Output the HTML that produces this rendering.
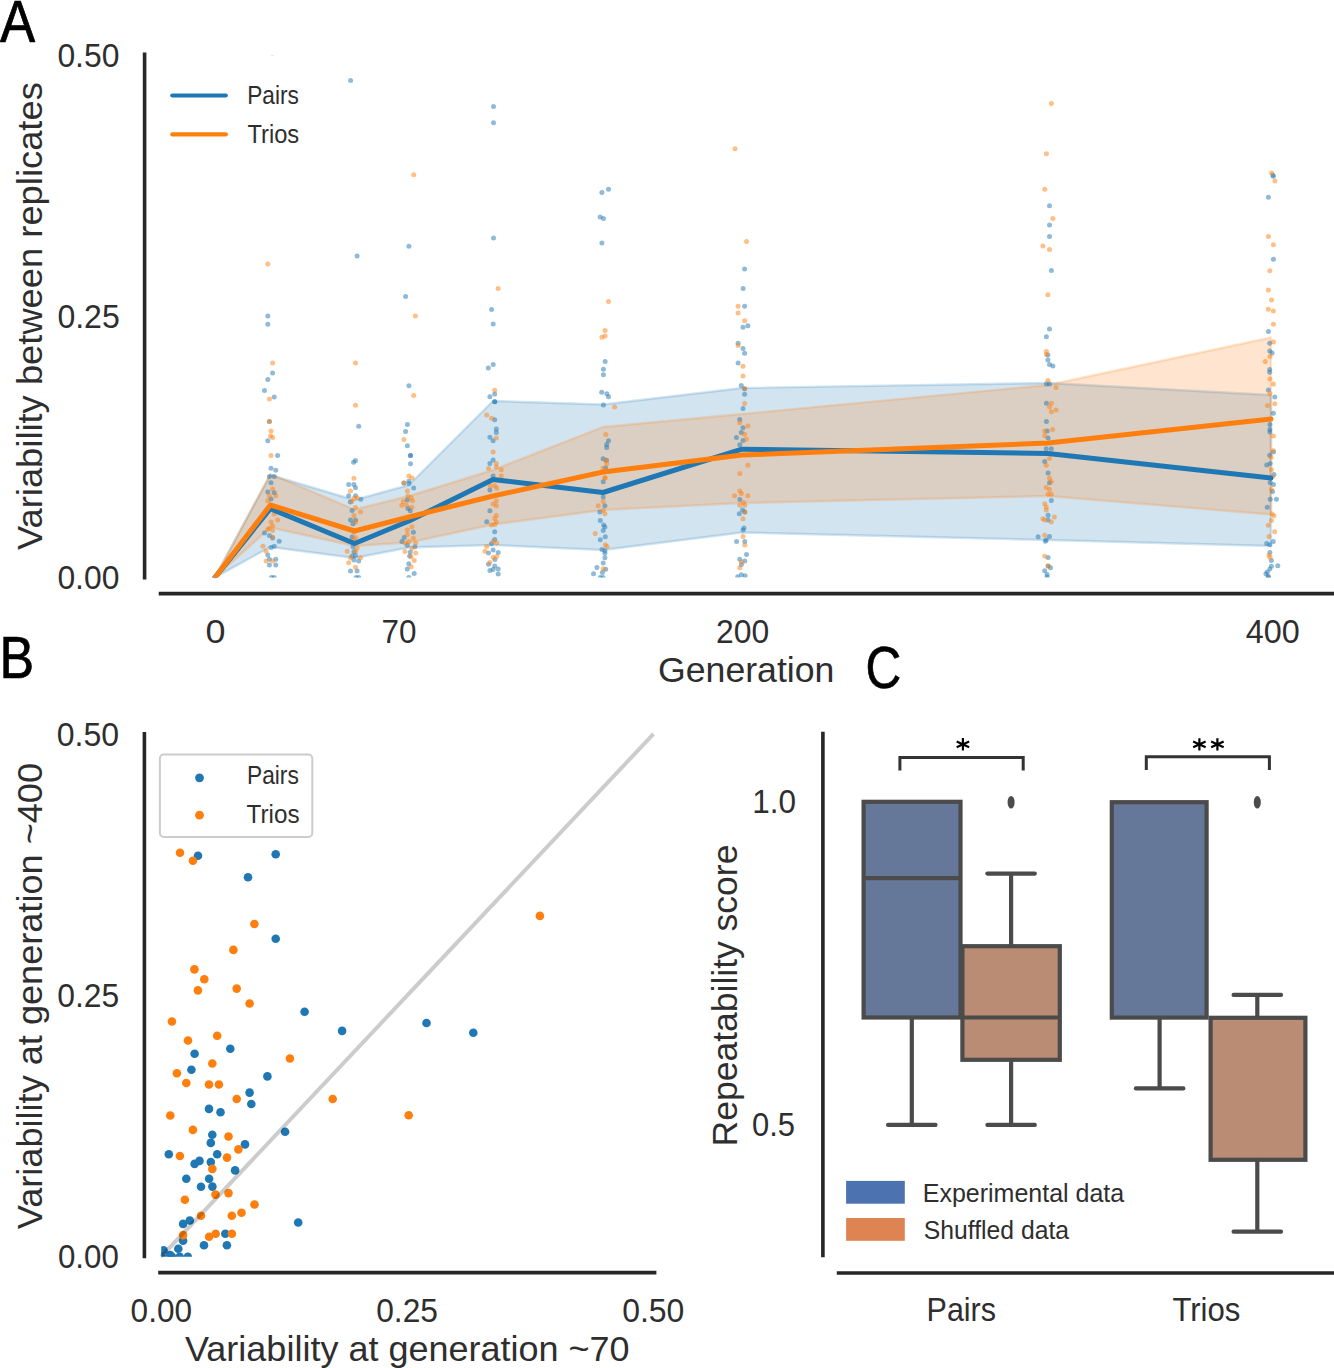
<!DOCTYPE html>
<html><head><meta charset="utf-8"><style>
html,body{margin:0;padding:0;background:#fff;}
svg{display:block;}
text{font-family:"Liberation Sans", sans-serif;}
</style></head><body>
<svg width="1334" height="1368" viewBox="0 0 1334 1368">
<rect width="1334" height="1368" fill="#fff"/>
<polygon points="215.0,577.4 270.3,475.0 354.5,500.0 409.0,485.0 493.0,401.0 603.0,404.5 742.0,388.0 1048.0,383.0 1271.0,395.0 1271.0,546.0 1048.0,540.0 742.0,532.5 603.0,550.0 493.0,545.0 409.0,547.5 354.5,558.0 270.3,547.0 215.0,577.4" fill="#1f77b4" fill-opacity="0.2" stroke="#1f77b4" stroke-opacity="0.2" stroke-width="2.4" stroke-linejoin="round"/>
<polygon points="215.0,577.4 270.3,474.0 354.5,509.5 409.0,496.0 493.0,470.0 603.0,427.0 742.0,414.0 1048.0,385.0 1271.0,337.5 1271.0,514.5 1048.0,496.0 742.0,503.0 603.0,510.0 493.0,524.5 409.0,542.5 354.5,546.0 270.3,527.5 215.0,577.4" fill="#ff7f0e" fill-opacity="0.2" stroke="#ff7f0e" stroke-opacity="0.2" stroke-width="2.4" stroke-linejoin="round"/>
<defs><clipPath id="ca"><rect x="145" y="54.9" width="1189" height="522.5"/></clipPath></defs>
<g clip-path="url(#ca)">
<circle cx="267.8" cy="315.9" r="2.5" fill="#1f77b4" fill-opacity="0.5"/>
<circle cx="267.8" cy="324.3" r="2.5" fill="#1f77b4" fill-opacity="0.5"/>
<circle cx="272.6" cy="372.9" r="2.5" fill="#1f77b4" fill-opacity="0.5"/>
<circle cx="267.8" cy="379.4" r="2.5" fill="#1f77b4" fill-opacity="0.5"/>
<circle cx="264.5" cy="390.5" r="2.5" fill="#1f77b4" fill-opacity="0.5"/>
<circle cx="274.2" cy="397.1" r="2.5" fill="#1f77b4" fill-opacity="0.5"/>
<circle cx="269.4" cy="421.4" r="2.5" fill="#1f77b4" fill-opacity="0.5"/>
<circle cx="267.8" cy="440.8" r="2.5" fill="#1f77b4" fill-opacity="0.5"/>
<circle cx="277.6" cy="455.4" r="2.5" fill="#1f77b4" fill-opacity="0.5"/>
<circle cx="271.0" cy="468.2" r="2.5" fill="#1f77b4" fill-opacity="0.5"/>
<circle cx="275.8" cy="470.3" r="2.5" fill="#1f77b4" fill-opacity="0.5"/>
<circle cx="269.4" cy="476.5" r="2.5" fill="#1f77b4" fill-opacity="0.5"/>
<circle cx="274.2" cy="476.5" r="2.5" fill="#1f77b4" fill-opacity="0.5"/>
<circle cx="271.0" cy="482.8" r="2.5" fill="#1f77b4" fill-opacity="0.5"/>
<circle cx="267.8" cy="492.1" r="2.5" fill="#1f77b4" fill-opacity="0.5"/>
<circle cx="274.2" cy="492.7" r="2.5" fill="#1f77b4" fill-opacity="0.5"/>
<circle cx="271.0" cy="498.9" r="2.5" fill="#1f77b4" fill-opacity="0.5"/>
<circle cx="264.5" cy="533.1" r="2.5" fill="#1f77b4" fill-opacity="0.5"/>
<circle cx="269.4" cy="535.6" r="2.5" fill="#1f77b4" fill-opacity="0.5"/>
<circle cx="272.6" cy="538.1" r="2.5" fill="#1f77b4" fill-opacity="0.5"/>
<circle cx="279.2" cy="541.2" r="2.5" fill="#1f77b4" fill-opacity="0.5"/>
<circle cx="274.2" cy="546.2" r="2.5" fill="#1f77b4" fill-opacity="0.5"/>
<circle cx="271.0" cy="547.4" r="2.5" fill="#1f77b4" fill-opacity="0.5"/>
<circle cx="267.8" cy="554.9" r="2.5" fill="#1f77b4" fill-opacity="0.5"/>
<circle cx="269.4" cy="559.3" r="2.5" fill="#1f77b4" fill-opacity="0.5"/>
<circle cx="275.8" cy="559.3" r="2.5" fill="#1f77b4" fill-opacity="0.5"/>
<circle cx="269.4" cy="564.9" r="2.5" fill="#1f77b4" fill-opacity="0.5"/>
<circle cx="275.8" cy="564.9" r="2.5" fill="#1f77b4" fill-opacity="0.5"/>
<circle cx="274.2" cy="577.4" r="2.5" fill="#1f77b4" fill-opacity="0.5"/>
<circle cx="271.5" cy="577.4" r="2.5" fill="#1f77b4" fill-opacity="0.5"/>
<circle cx="350.6" cy="80.5" r="2.5" fill="#1f77b4" fill-opacity="0.5"/>
<circle cx="357.1" cy="255.9" r="2.5" fill="#1f77b4" fill-opacity="0.5"/>
<circle cx="358.7" cy="426.2" r="2.5" fill="#1f77b4" fill-opacity="0.5"/>
<circle cx="355.5" cy="460.4" r="2.5" fill="#1f77b4" fill-opacity="0.5"/>
<circle cx="353.6" cy="462.2" r="2.5" fill="#1f77b4" fill-opacity="0.5"/>
<circle cx="348.7" cy="484.6" r="2.5" fill="#1f77b4" fill-opacity="0.5"/>
<circle cx="353.9" cy="484.6" r="2.5" fill="#1f77b4" fill-opacity="0.5"/>
<circle cx="355.5" cy="487.7" r="2.5" fill="#1f77b4" fill-opacity="0.5"/>
<circle cx="348.7" cy="495.8" r="2.5" fill="#1f77b4" fill-opacity="0.5"/>
<circle cx="355.5" cy="495.8" r="2.5" fill="#1f77b4" fill-opacity="0.5"/>
<circle cx="360.8" cy="499.3" r="2.5" fill="#1f77b4" fill-opacity="0.5"/>
<circle cx="350.3" cy="502.0" r="2.5" fill="#1f77b4" fill-opacity="0.5"/>
<circle cx="352.1" cy="510.5" r="2.5" fill="#1f77b4" fill-opacity="0.5"/>
<circle cx="350.5" cy="520.1" r="2.5" fill="#1f77b4" fill-opacity="0.5"/>
<circle cx="355.5" cy="520.1" r="2.5" fill="#1f77b4" fill-opacity="0.5"/>
<circle cx="353.0" cy="523.8" r="2.5" fill="#1f77b4" fill-opacity="0.5"/>
<circle cx="352.1" cy="536.9" r="2.5" fill="#1f77b4" fill-opacity="0.5"/>
<circle cx="353.0" cy="546.8" r="2.5" fill="#1f77b4" fill-opacity="0.5"/>
<circle cx="354.0" cy="551.8" r="2.5" fill="#1f77b4" fill-opacity="0.5"/>
<circle cx="355.5" cy="555.5" r="2.5" fill="#1f77b4" fill-opacity="0.5"/>
<circle cx="352.1" cy="556.1" r="2.5" fill="#1f77b4" fill-opacity="0.5"/>
<circle cx="353.9" cy="559.9" r="2.5" fill="#1f77b4" fill-opacity="0.5"/>
<circle cx="358.7" cy="561.1" r="2.5" fill="#1f77b4" fill-opacity="0.5"/>
<circle cx="350.5" cy="571.1" r="2.5" fill="#1f77b4" fill-opacity="0.5"/>
<circle cx="357.1" cy="571.1" r="2.5" fill="#1f77b4" fill-opacity="0.5"/>
<circle cx="358.7" cy="577.4" r="2.5" fill="#1f77b4" fill-opacity="0.5"/>
<circle cx="356.1" cy="577.4" r="2.5" fill="#1f77b4" fill-opacity="0.5"/>
<circle cx="408.9" cy="246.2" r="2.5" fill="#1f77b4" fill-opacity="0.5"/>
<circle cx="405.6" cy="296.6" r="2.5" fill="#1f77b4" fill-opacity="0.5"/>
<circle cx="408.9" cy="385.7" r="2.5" fill="#1f77b4" fill-opacity="0.5"/>
<circle cx="407.4" cy="424.5" r="2.5" fill="#1f77b4" fill-opacity="0.5"/>
<circle cx="405.6" cy="431.4" r="2.5" fill="#1f77b4" fill-opacity="0.5"/>
<circle cx="407.4" cy="445.7" r="2.5" fill="#1f77b4" fill-opacity="0.5"/>
<circle cx="410.5" cy="455.6" r="2.5" fill="#1f77b4" fill-opacity="0.5"/>
<circle cx="410.5" cy="455.6" r="2.5" fill="#1f77b4" fill-opacity="0.5"/>
<circle cx="410.5" cy="463.7" r="2.5" fill="#1f77b4" fill-opacity="0.5"/>
<circle cx="403.9" cy="483.0" r="2.5" fill="#1f77b4" fill-opacity="0.5"/>
<circle cx="408.9" cy="483.6" r="2.5" fill="#1f77b4" fill-opacity="0.5"/>
<circle cx="408.9" cy="481.2" r="2.5" fill="#1f77b4" fill-opacity="0.5"/>
<circle cx="413.7" cy="488.0" r="2.5" fill="#1f77b4" fill-opacity="0.5"/>
<circle cx="407.3" cy="500.0" r="2.5" fill="#1f77b4" fill-opacity="0.5"/>
<circle cx="408.0" cy="508.4" r="2.5" fill="#1f77b4" fill-opacity="0.5"/>
<circle cx="410.3" cy="510.7" r="2.5" fill="#1f77b4" fill-opacity="0.5"/>
<circle cx="413.4" cy="532.2" r="2.5" fill="#1f77b4" fill-opacity="0.5"/>
<circle cx="404.2" cy="537.6" r="2.5" fill="#1f77b4" fill-opacity="0.5"/>
<circle cx="401.9" cy="541.4" r="2.5" fill="#1f77b4" fill-opacity="0.5"/>
<circle cx="407.3" cy="545.2" r="2.5" fill="#1f77b4" fill-opacity="0.5"/>
<circle cx="414.9" cy="546.8" r="2.5" fill="#1f77b4" fill-opacity="0.5"/>
<circle cx="410.3" cy="552.1" r="2.5" fill="#1f77b4" fill-opacity="0.5"/>
<circle cx="409.6" cy="556.0" r="2.5" fill="#1f77b4" fill-opacity="0.5"/>
<circle cx="408.8" cy="563.7" r="2.5" fill="#1f77b4" fill-opacity="0.5"/>
<circle cx="407.3" cy="569.0" r="2.5" fill="#1f77b4" fill-opacity="0.5"/>
<circle cx="414.2" cy="573.6" r="2.5" fill="#1f77b4" fill-opacity="0.5"/>
<circle cx="408.8" cy="577.4" r="2.5" fill="#1f77b4" fill-opacity="0.5"/>
<circle cx="493.5" cy="106.4" r="2.5" fill="#1f77b4" fill-opacity="0.5"/>
<circle cx="493.5" cy="122.7" r="2.5" fill="#1f77b4" fill-opacity="0.5"/>
<circle cx="493.5" cy="238.0" r="2.5" fill="#1f77b4" fill-opacity="0.5"/>
<circle cx="491.6" cy="309.5" r="2.5" fill="#1f77b4" fill-opacity="0.5"/>
<circle cx="493.2" cy="324.1" r="2.5" fill="#1f77b4" fill-opacity="0.5"/>
<circle cx="493.2" cy="364.5" r="2.5" fill="#1f77b4" fill-opacity="0.5"/>
<circle cx="488.3" cy="368.0" r="2.5" fill="#1f77b4" fill-opacity="0.5"/>
<circle cx="494.7" cy="394.1" r="2.5" fill="#1f77b4" fill-opacity="0.5"/>
<circle cx="489.9" cy="396.8" r="2.5" fill="#1f77b4" fill-opacity="0.5"/>
<circle cx="494.7" cy="401.8" r="2.5" fill="#1f77b4" fill-opacity="0.5"/>
<circle cx="494.7" cy="401.8" r="2.5" fill="#1f77b4" fill-opacity="0.5"/>
<circle cx="494.7" cy="419.8" r="2.5" fill="#1f77b4" fill-opacity="0.5"/>
<circle cx="496.3" cy="429.1" r="2.5" fill="#1f77b4" fill-opacity="0.5"/>
<circle cx="496.3" cy="432.6" r="2.5" fill="#1f77b4" fill-opacity="0.5"/>
<circle cx="489.9" cy="437.3" r="2.5" fill="#1f77b4" fill-opacity="0.5"/>
<circle cx="493.1" cy="440.8" r="2.5" fill="#1f77b4" fill-opacity="0.5"/>
<circle cx="493.1" cy="459.9" r="2.5" fill="#1f77b4" fill-opacity="0.5"/>
<circle cx="489.9" cy="463.4" r="2.5" fill="#1f77b4" fill-opacity="0.5"/>
<circle cx="493.1" cy="475.9" r="2.5" fill="#1f77b4" fill-opacity="0.5"/>
<circle cx="489.9" cy="489.9" r="2.5" fill="#1f77b4" fill-opacity="0.5"/>
<circle cx="489.9" cy="510.7" r="2.5" fill="#1f77b4" fill-opacity="0.5"/>
<circle cx="486.7" cy="521.8" r="2.5" fill="#1f77b4" fill-opacity="0.5"/>
<circle cx="494.7" cy="531.8" r="2.5" fill="#1f77b4" fill-opacity="0.5"/>
<circle cx="494.7" cy="539.6" r="2.5" fill="#1f77b4" fill-opacity="0.5"/>
<circle cx="491.4" cy="543.7" r="2.5" fill="#1f77b4" fill-opacity="0.5"/>
<circle cx="493.1" cy="549.9" r="2.5" fill="#1f77b4" fill-opacity="0.5"/>
<circle cx="488.5" cy="553.1" r="2.5" fill="#1f77b4" fill-opacity="0.5"/>
<circle cx="498.2" cy="552.5" r="2.5" fill="#1f77b4" fill-opacity="0.5"/>
<circle cx="494.9" cy="559.5" r="2.5" fill="#1f77b4" fill-opacity="0.5"/>
<circle cx="488.5" cy="564.2" r="2.5" fill="#1f77b4" fill-opacity="0.5"/>
<circle cx="494.7" cy="565.9" r="2.5" fill="#1f77b4" fill-opacity="0.5"/>
<circle cx="498.2" cy="568.9" r="2.5" fill="#1f77b4" fill-opacity="0.5"/>
<circle cx="489.9" cy="570.6" r="2.5" fill="#1f77b4" fill-opacity="0.5"/>
<circle cx="493.1" cy="569.4" r="2.5" fill="#1f77b4" fill-opacity="0.5"/>
<circle cx="498.2" cy="574.1" r="2.5" fill="#1f77b4" fill-opacity="0.5"/>
<circle cx="608.5" cy="189.3" r="2.5" fill="#1f77b4" fill-opacity="0.5"/>
<circle cx="601.9" cy="192.6" r="2.5" fill="#1f77b4" fill-opacity="0.5"/>
<circle cx="600.1" cy="217.0" r="2.5" fill="#1f77b4" fill-opacity="0.5"/>
<circle cx="603.5" cy="218.5" r="2.5" fill="#1f77b4" fill-opacity="0.5"/>
<circle cx="601.9" cy="243.1" r="2.5" fill="#1f77b4" fill-opacity="0.5"/>
<circle cx="605.1" cy="361.5" r="2.5" fill="#1f77b4" fill-opacity="0.5"/>
<circle cx="603.4" cy="369.2" r="2.5" fill="#1f77b4" fill-opacity="0.5"/>
<circle cx="603.4" cy="374.8" r="2.5" fill="#1f77b4" fill-opacity="0.5"/>
<circle cx="601.7" cy="392.2" r="2.5" fill="#1f77b4" fill-opacity="0.5"/>
<circle cx="606.9" cy="393.7" r="2.5" fill="#1f77b4" fill-opacity="0.5"/>
<circle cx="608.5" cy="396.8" r="2.5" fill="#1f77b4" fill-opacity="0.5"/>
<circle cx="603.4" cy="405.0" r="2.5" fill="#1f77b4" fill-opacity="0.5"/>
<circle cx="608.5" cy="440.8" r="2.5" fill="#1f77b4" fill-opacity="0.5"/>
<circle cx="606.7" cy="444.4" r="2.5" fill="#1f77b4" fill-opacity="0.5"/>
<circle cx="606.7" cy="447.5" r="2.5" fill="#1f77b4" fill-opacity="0.5"/>
<circle cx="603.1" cy="458.7" r="2.5" fill="#1f77b4" fill-opacity="0.5"/>
<circle cx="606.5" cy="460.3" r="2.5" fill="#1f77b4" fill-opacity="0.5"/>
<circle cx="605.6" cy="467.9" r="2.5" fill="#1f77b4" fill-opacity="0.5"/>
<circle cx="603.2" cy="481.8" r="2.5" fill="#1f77b4" fill-opacity="0.5"/>
<circle cx="603.2" cy="496.9" r="2.5" fill="#1f77b4" fill-opacity="0.5"/>
<circle cx="604.9" cy="505.7" r="2.5" fill="#1f77b4" fill-opacity="0.5"/>
<circle cx="599.8" cy="512.0" r="2.5" fill="#1f77b4" fill-opacity="0.5"/>
<circle cx="600.3" cy="520.4" r="2.5" fill="#1f77b4" fill-opacity="0.5"/>
<circle cx="603.6" cy="525.0" r="2.5" fill="#1f77b4" fill-opacity="0.5"/>
<circle cx="604.9" cy="527.1" r="2.5" fill="#1f77b4" fill-opacity="0.5"/>
<circle cx="603.2" cy="530.5" r="2.5" fill="#1f77b4" fill-opacity="0.5"/>
<circle cx="605.3" cy="536.8" r="2.5" fill="#1f77b4" fill-opacity="0.5"/>
<circle cx="600.3" cy="539.7" r="2.5" fill="#1f77b4" fill-opacity="0.5"/>
<circle cx="602.0" cy="549.4" r="2.5" fill="#1f77b4" fill-opacity="0.5"/>
<circle cx="604.9" cy="550.7" r="2.5" fill="#1f77b4" fill-opacity="0.5"/>
<circle cx="604.9" cy="553.2" r="2.5" fill="#1f77b4" fill-opacity="0.5"/>
<circle cx="604.9" cy="557.8" r="2.5" fill="#1f77b4" fill-opacity="0.5"/>
<circle cx="603.2" cy="562.9" r="2.5" fill="#1f77b4" fill-opacity="0.5"/>
<circle cx="596.9" cy="567.5" r="2.5" fill="#1f77b4" fill-opacity="0.5"/>
<circle cx="605.7" cy="569.2" r="2.5" fill="#1f77b4" fill-opacity="0.5"/>
<circle cx="602.4" cy="572.5" r="2.5" fill="#1f77b4" fill-opacity="0.5"/>
<circle cx="593.5" cy="573.8" r="2.5" fill="#1f77b4" fill-opacity="0.5"/>
<circle cx="600.3" cy="577.4" r="2.5" fill="#1f77b4" fill-opacity="0.5"/>
<circle cx="603.0" cy="577.4" r="2.5" fill="#1f77b4" fill-opacity="0.5"/>
<circle cx="744.6" cy="269.1" r="2.5" fill="#1f77b4" fill-opacity="0.5"/>
<circle cx="743.1" cy="288.6" r="2.5" fill="#1f77b4" fill-opacity="0.5"/>
<circle cx="744.6" cy="306.3" r="2.5" fill="#1f77b4" fill-opacity="0.5"/>
<circle cx="743.0" cy="327.3" r="2.5" fill="#1f77b4" fill-opacity="0.5"/>
<circle cx="747.9" cy="325.7" r="2.5" fill="#1f77b4" fill-opacity="0.5"/>
<circle cx="738.1" cy="343.2" r="2.5" fill="#1f77b4" fill-opacity="0.5"/>
<circle cx="743.0" cy="348.4" r="2.5" fill="#1f77b4" fill-opacity="0.5"/>
<circle cx="744.6" cy="353.3" r="2.5" fill="#1f77b4" fill-opacity="0.5"/>
<circle cx="738.1" cy="363.0" r="2.5" fill="#1f77b4" fill-opacity="0.5"/>
<circle cx="741.3" cy="385.5" r="2.5" fill="#1f77b4" fill-opacity="0.5"/>
<circle cx="744.6" cy="388.7" r="2.5" fill="#1f77b4" fill-opacity="0.5"/>
<circle cx="744.6" cy="394.2" r="2.5" fill="#1f77b4" fill-opacity="0.5"/>
<circle cx="743.0" cy="408.5" r="2.5" fill="#1f77b4" fill-opacity="0.5"/>
<circle cx="739.7" cy="419.5" r="2.5" fill="#1f77b4" fill-opacity="0.5"/>
<circle cx="743.0" cy="427.7" r="2.5" fill="#1f77b4" fill-opacity="0.5"/>
<circle cx="741.3" cy="432.6" r="2.5" fill="#1f77b4" fill-opacity="0.5"/>
<circle cx="736.4" cy="437.5" r="2.5" fill="#1f77b4" fill-opacity="0.5"/>
<circle cx="743.0" cy="440.5" r="2.5" fill="#1f77b4" fill-opacity="0.5"/>
<circle cx="739.8" cy="444.8" r="2.5" fill="#1f77b4" fill-opacity="0.5"/>
<circle cx="739.8" cy="499.4" r="2.5" fill="#1f77b4" fill-opacity="0.5"/>
<circle cx="742.5" cy="510.0" r="2.5" fill="#1f77b4" fill-opacity="0.5"/>
<circle cx="744.8" cy="512.1" r="2.5" fill="#1f77b4" fill-opacity="0.5"/>
<circle cx="739.3" cy="513.7" r="2.5" fill="#1f77b4" fill-opacity="0.5"/>
<circle cx="744.0" cy="528.0" r="2.5" fill="#1f77b4" fill-opacity="0.5"/>
<circle cx="743.0" cy="530.1" r="2.5" fill="#1f77b4" fill-opacity="0.5"/>
<circle cx="736.6" cy="541.6" r="2.5" fill="#1f77b4" fill-opacity="0.5"/>
<circle cx="744.8" cy="541.6" r="2.5" fill="#1f77b4" fill-opacity="0.5"/>
<circle cx="746.5" cy="554.5" r="2.5" fill="#1f77b4" fill-opacity="0.5"/>
<circle cx="739.8" cy="559.3" r="2.5" fill="#1f77b4" fill-opacity="0.5"/>
<circle cx="744.8" cy="560.9" r="2.5" fill="#1f77b4" fill-opacity="0.5"/>
<circle cx="741.4" cy="564.5" r="2.5" fill="#1f77b4" fill-opacity="0.5"/>
<circle cx="741.4" cy="574.7" r="2.5" fill="#1f77b4" fill-opacity="0.5"/>
<circle cx="737.7" cy="576.8" r="2.5" fill="#1f77b4" fill-opacity="0.5"/>
<circle cx="745.1" cy="575.7" r="2.5" fill="#1f77b4" fill-opacity="0.5"/>
<circle cx="1049.5" cy="205.7" r="2.5" fill="#1f77b4" fill-opacity="0.5"/>
<circle cx="1049.5" cy="225.0" r="2.5" fill="#1f77b4" fill-opacity="0.5"/>
<circle cx="1049.5" cy="236.5" r="2.5" fill="#1f77b4" fill-opacity="0.5"/>
<circle cx="1051.4" cy="270.5" r="2.5" fill="#1f77b4" fill-opacity="0.5"/>
<circle cx="1049.5" cy="329.0" r="2.5" fill="#1f77b4" fill-opacity="0.5"/>
<circle cx="1046.4" cy="336.8" r="2.5" fill="#1f77b4" fill-opacity="0.5"/>
<circle cx="1047.9" cy="354.9" r="2.5" fill="#1f77b4" fill-opacity="0.5"/>
<circle cx="1047.9" cy="360.1" r="2.5" fill="#1f77b4" fill-opacity="0.5"/>
<circle cx="1049.5" cy="364.5" r="2.5" fill="#1f77b4" fill-opacity="0.5"/>
<circle cx="1052.9" cy="366.1" r="2.5" fill="#1f77b4" fill-opacity="0.5"/>
<circle cx="1046.4" cy="384.1" r="2.5" fill="#1f77b4" fill-opacity="0.5"/>
<circle cx="1049.5" cy="384.1" r="2.5" fill="#1f77b4" fill-opacity="0.5"/>
<circle cx="1046.4" cy="403.3" r="2.5" fill="#1f77b4" fill-opacity="0.5"/>
<circle cx="1046.4" cy="421.4" r="2.5" fill="#1f77b4" fill-opacity="0.5"/>
<circle cx="1047.2" cy="430.9" r="2.5" fill="#1f77b4" fill-opacity="0.5"/>
<circle cx="1048.1" cy="438.1" r="2.5" fill="#1f77b4" fill-opacity="0.5"/>
<circle cx="1046.2" cy="448.7" r="2.5" fill="#1f77b4" fill-opacity="0.5"/>
<circle cx="1051.3" cy="448.7" r="2.5" fill="#1f77b4" fill-opacity="0.5"/>
<circle cx="1044.7" cy="461.6" r="2.5" fill="#1f77b4" fill-opacity="0.5"/>
<circle cx="1048.1" cy="473.1" r="2.5" fill="#1f77b4" fill-opacity="0.5"/>
<circle cx="1049.5" cy="482.7" r="2.5" fill="#1f77b4" fill-opacity="0.5"/>
<circle cx="1051.3" cy="500.6" r="2.5" fill="#1f77b4" fill-opacity="0.5"/>
<circle cx="1048.1" cy="515.3" r="2.5" fill="#1f77b4" fill-opacity="0.5"/>
<circle cx="1048.1" cy="520.1" r="2.5" fill="#1f77b4" fill-opacity="0.5"/>
<circle cx="1038.1" cy="536.8" r="2.5" fill="#1f77b4" fill-opacity="0.5"/>
<circle cx="1049.5" cy="536.4" r="2.5" fill="#1f77b4" fill-opacity="0.5"/>
<circle cx="1045.3" cy="541.2" r="2.5" fill="#1f77b4" fill-opacity="0.5"/>
<circle cx="1046.2" cy="540.0" r="2.5" fill="#1f77b4" fill-opacity="0.5"/>
<circle cx="1048.1" cy="557.5" r="2.5" fill="#1f77b4" fill-opacity="0.5"/>
<circle cx="1048.1" cy="566.0" r="2.5" fill="#1f77b4" fill-opacity="0.5"/>
<circle cx="1050.5" cy="567.8" r="2.5" fill="#1f77b4" fill-opacity="0.5"/>
<circle cx="1044.7" cy="570.8" r="2.5" fill="#1f77b4" fill-opacity="0.5"/>
<circle cx="1047.1" cy="574.4" r="2.5" fill="#1f77b4" fill-opacity="0.5"/>
<circle cx="1047.1" cy="577.0" r="2.5" fill="#1f77b4" fill-opacity="0.5"/>
<circle cx="1272.8" cy="175.0" r="2.5" fill="#1f77b4" fill-opacity="0.5"/>
<circle cx="1273.4" cy="176.2" r="2.5" fill="#1f77b4" fill-opacity="0.5"/>
<circle cx="1268.4" cy="197.3" r="2.5" fill="#1f77b4" fill-opacity="0.5"/>
<circle cx="1273.4" cy="259.3" r="2.5" fill="#1f77b4" fill-opacity="0.5"/>
<circle cx="1268.4" cy="331.5" r="2.5" fill="#1f77b4" fill-opacity="0.5"/>
<circle cx="1269.7" cy="343.2" r="2.5" fill="#1f77b4" fill-opacity="0.5"/>
<circle cx="1269.7" cy="351.1" r="2.5" fill="#1f77b4" fill-opacity="0.5"/>
<circle cx="1272.1" cy="353.1" r="2.5" fill="#1f77b4" fill-opacity="0.5"/>
<circle cx="1269.7" cy="369.4" r="2.5" fill="#1f77b4" fill-opacity="0.5"/>
<circle cx="1269.7" cy="372.3" r="2.5" fill="#1f77b4" fill-opacity="0.5"/>
<circle cx="1268.4" cy="390.1" r="2.5" fill="#1f77b4" fill-opacity="0.5"/>
<circle cx="1274.8" cy="397.0" r="2.5" fill="#1f77b4" fill-opacity="0.5"/>
<circle cx="1273.4" cy="413.3" r="2.5" fill="#1f77b4" fill-opacity="0.5"/>
<circle cx="1269.9" cy="424.6" r="2.5" fill="#1f77b4" fill-opacity="0.5"/>
<circle cx="1269.9" cy="429.5" r="2.5" fill="#1f77b4" fill-opacity="0.5"/>
<circle cx="1269.9" cy="432.0" r="2.5" fill="#1f77b4" fill-opacity="0.5"/>
<circle cx="1273.4" cy="452.0" r="2.5" fill="#1f77b4" fill-opacity="0.5"/>
<circle cx="1269.7" cy="455.2" r="2.5" fill="#1f77b4" fill-opacity="0.5"/>
<circle cx="1270.2" cy="463.6" r="2.5" fill="#1f77b4" fill-opacity="0.5"/>
<circle cx="1266.7" cy="465.0" r="2.5" fill="#1f77b4" fill-opacity="0.5"/>
<circle cx="1274.0" cy="474.5" r="2.5" fill="#1f77b4" fill-opacity="0.5"/>
<circle cx="1270.2" cy="482.6" r="2.5" fill="#1f77b4" fill-opacity="0.5"/>
<circle cx="1273.5" cy="484.5" r="2.5" fill="#1f77b4" fill-opacity="0.5"/>
<circle cx="1272.5" cy="491.5" r="2.5" fill="#1f77b4" fill-opacity="0.5"/>
<circle cx="1270.2" cy="499.2" r="2.5" fill="#1f77b4" fill-opacity="0.5"/>
<circle cx="1276.4" cy="499.2" r="2.5" fill="#1f77b4" fill-opacity="0.5"/>
<circle cx="1267.3" cy="507.3" r="2.5" fill="#1f77b4" fill-opacity="0.5"/>
<circle cx="1266.7" cy="543.4" r="2.5" fill="#1f77b4" fill-opacity="0.5"/>
<circle cx="1269.9" cy="544.8" r="2.5" fill="#1f77b4" fill-opacity="0.5"/>
<circle cx="1273.3" cy="541.5" r="2.5" fill="#1f77b4" fill-opacity="0.5"/>
<circle cx="1269.9" cy="552.4" r="2.5" fill="#1f77b4" fill-opacity="0.5"/>
<circle cx="1271.4" cy="560.5" r="2.5" fill="#1f77b4" fill-opacity="0.5"/>
<circle cx="1277.8" cy="565.7" r="2.5" fill="#1f77b4" fill-opacity="0.5"/>
<circle cx="1271.4" cy="566.2" r="2.5" fill="#1f77b4" fill-opacity="0.5"/>
<circle cx="1269.9" cy="569.1" r="2.5" fill="#1f77b4" fill-opacity="0.5"/>
<circle cx="1267.3" cy="571.9" r="2.5" fill="#1f77b4" fill-opacity="0.5"/>
<circle cx="1265.9" cy="573.8" r="2.5" fill="#1f77b4" fill-opacity="0.5"/>
<circle cx="1268.3" cy="576.2" r="2.5" fill="#1f77b4" fill-opacity="0.5"/>
<circle cx="1268.3" cy="577.4" r="2.5" fill="#1f77b4" fill-opacity="0.5"/>
<circle cx="272.5" cy="53.0" r="2.5" fill="#ff7f0e" fill-opacity="0.5"/>
<circle cx="267.8" cy="264.1" r="2.5" fill="#ff7f0e" fill-opacity="0.5"/>
<circle cx="272.6" cy="362.9" r="2.5" fill="#ff7f0e" fill-opacity="0.5"/>
<circle cx="269.4" cy="398.9" r="2.5" fill="#ff7f0e" fill-opacity="0.5"/>
<circle cx="269.4" cy="421.4" r="2.5" fill="#ff7f0e" fill-opacity="0.5"/>
<circle cx="271.0" cy="431.1" r="2.5" fill="#ff7f0e" fill-opacity="0.5"/>
<circle cx="272.6" cy="437.4" r="2.5" fill="#ff7f0e" fill-opacity="0.5"/>
<circle cx="270.5" cy="436.0" r="2.5" fill="#ff7f0e" fill-opacity="0.5"/>
<circle cx="271.0" cy="455.4" r="2.5" fill="#ff7f0e" fill-opacity="0.5"/>
<circle cx="272.6" cy="489.0" r="2.5" fill="#ff7f0e" fill-opacity="0.5"/>
<circle cx="275.8" cy="495.8" r="2.5" fill="#ff7f0e" fill-opacity="0.5"/>
<circle cx="269.4" cy="495.8" r="2.5" fill="#ff7f0e" fill-opacity="0.5"/>
<circle cx="267.8" cy="500.8" r="2.5" fill="#ff7f0e" fill-opacity="0.5"/>
<circle cx="274.2" cy="513.9" r="2.5" fill="#ff7f0e" fill-opacity="0.5"/>
<circle cx="277.6" cy="520.1" r="2.5" fill="#ff7f0e" fill-opacity="0.5"/>
<circle cx="271.0" cy="521.9" r="2.5" fill="#ff7f0e" fill-opacity="0.5"/>
<circle cx="272.6" cy="525.7" r="2.5" fill="#ff7f0e" fill-opacity="0.5"/>
<circle cx="269.4" cy="528.2" r="2.5" fill="#ff7f0e" fill-opacity="0.5"/>
<circle cx="267.8" cy="529.4" r="2.5" fill="#ff7f0e" fill-opacity="0.5"/>
<circle cx="272.6" cy="530.6" r="2.5" fill="#ff7f0e" fill-opacity="0.5"/>
<circle cx="272.6" cy="536.9" r="2.5" fill="#ff7f0e" fill-opacity="0.5"/>
<circle cx="262.9" cy="546.2" r="2.5" fill="#ff7f0e" fill-opacity="0.5"/>
<circle cx="266.1" cy="551.2" r="2.5" fill="#ff7f0e" fill-opacity="0.5"/>
<circle cx="266.1" cy="561.1" r="2.5" fill="#ff7f0e" fill-opacity="0.5"/>
<circle cx="272.6" cy="561.1" r="2.5" fill="#ff7f0e" fill-opacity="0.5"/>
<circle cx="355.5" cy="363.1" r="2.5" fill="#ff7f0e" fill-opacity="0.5"/>
<circle cx="355.5" cy="405.2" r="2.5" fill="#ff7f0e" fill-opacity="0.5"/>
<circle cx="353.9" cy="478.2" r="2.5" fill="#ff7f0e" fill-opacity="0.5"/>
<circle cx="350.5" cy="491.1" r="2.5" fill="#ff7f0e" fill-opacity="0.5"/>
<circle cx="353.9" cy="498.3" r="2.5" fill="#ff7f0e" fill-opacity="0.5"/>
<circle cx="357.1" cy="497.7" r="2.5" fill="#ff7f0e" fill-opacity="0.5"/>
<circle cx="351.8" cy="501.4" r="2.5" fill="#ff7f0e" fill-opacity="0.5"/>
<circle cx="355.5" cy="507.6" r="2.5" fill="#ff7f0e" fill-opacity="0.5"/>
<circle cx="360.5" cy="512.0" r="2.5" fill="#ff7f0e" fill-opacity="0.5"/>
<circle cx="353.9" cy="515.5" r="2.5" fill="#ff7f0e" fill-opacity="0.5"/>
<circle cx="355.5" cy="522.0" r="2.5" fill="#ff7f0e" fill-opacity="0.5"/>
<circle cx="353.9" cy="531.9" r="2.5" fill="#ff7f0e" fill-opacity="0.5"/>
<circle cx="355.5" cy="537.5" r="2.5" fill="#ff7f0e" fill-opacity="0.5"/>
<circle cx="353.9" cy="540.0" r="2.5" fill="#ff7f0e" fill-opacity="0.5"/>
<circle cx="357.1" cy="548.0" r="2.5" fill="#ff7f0e" fill-opacity="0.5"/>
<circle cx="347.2" cy="551.2" r="2.5" fill="#ff7f0e" fill-opacity="0.5"/>
<circle cx="355.5" cy="551.2" r="2.5" fill="#ff7f0e" fill-opacity="0.5"/>
<circle cx="350.5" cy="557.8" r="2.5" fill="#ff7f0e" fill-opacity="0.5"/>
<circle cx="360.5" cy="557.8" r="2.5" fill="#ff7f0e" fill-opacity="0.5"/>
<circle cx="348.7" cy="562.7" r="2.5" fill="#ff7f0e" fill-opacity="0.5"/>
<circle cx="355.5" cy="567.3" r="2.5" fill="#ff7f0e" fill-opacity="0.5"/>
<circle cx="413.7" cy="174.7" r="2.5" fill="#ff7f0e" fill-opacity="0.5"/>
<circle cx="415.3" cy="316.1" r="2.5" fill="#ff7f0e" fill-opacity="0.5"/>
<circle cx="413.7" cy="395.5" r="2.5" fill="#ff7f0e" fill-opacity="0.5"/>
<circle cx="403.9" cy="439.5" r="2.5" fill="#ff7f0e" fill-opacity="0.5"/>
<circle cx="408.9" cy="476.1" r="2.5" fill="#ff7f0e" fill-opacity="0.5"/>
<circle cx="412.1" cy="478.0" r="2.5" fill="#ff7f0e" fill-opacity="0.5"/>
<circle cx="403.9" cy="483.0" r="2.5" fill="#ff7f0e" fill-opacity="0.5"/>
<circle cx="407.4" cy="491.1" r="2.5" fill="#ff7f0e" fill-opacity="0.5"/>
<circle cx="408.0" cy="496.1" r="2.5" fill="#ff7f0e" fill-opacity="0.5"/>
<circle cx="411.1" cy="497.7" r="2.5" fill="#ff7f0e" fill-opacity="0.5"/>
<circle cx="412.6" cy="500.7" r="2.5" fill="#ff7f0e" fill-opacity="0.5"/>
<circle cx="403.4" cy="501.5" r="2.5" fill="#ff7f0e" fill-opacity="0.5"/>
<circle cx="401.9" cy="505.3" r="2.5" fill="#ff7f0e" fill-opacity="0.5"/>
<circle cx="406.5" cy="505.3" r="2.5" fill="#ff7f0e" fill-opacity="0.5"/>
<circle cx="411.9" cy="507.2" r="2.5" fill="#ff7f0e" fill-opacity="0.5"/>
<circle cx="411.9" cy="526.8" r="2.5" fill="#ff7f0e" fill-opacity="0.5"/>
<circle cx="407.3" cy="529.9" r="2.5" fill="#ff7f0e" fill-opacity="0.5"/>
<circle cx="407.3" cy="534.5" r="2.5" fill="#ff7f0e" fill-opacity="0.5"/>
<circle cx="413.4" cy="538.3" r="2.5" fill="#ff7f0e" fill-opacity="0.5"/>
<circle cx="405.0" cy="542.9" r="2.5" fill="#ff7f0e" fill-opacity="0.5"/>
<circle cx="408.8" cy="541.4" r="2.5" fill="#ff7f0e" fill-opacity="0.5"/>
<circle cx="415.7" cy="542.9" r="2.5" fill="#ff7f0e" fill-opacity="0.5"/>
<circle cx="411.9" cy="548.3" r="2.5" fill="#ff7f0e" fill-opacity="0.5"/>
<circle cx="405.0" cy="551.4" r="2.5" fill="#ff7f0e" fill-opacity="0.5"/>
<circle cx="415.7" cy="552.9" r="2.5" fill="#ff7f0e" fill-opacity="0.5"/>
<circle cx="411.1" cy="556.7" r="2.5" fill="#ff7f0e" fill-opacity="0.5"/>
<circle cx="414.2" cy="560.6" r="2.5" fill="#ff7f0e" fill-opacity="0.5"/>
<circle cx="411.1" cy="566.7" r="2.5" fill="#ff7f0e" fill-opacity="0.5"/>
<circle cx="498.1" cy="288.4" r="2.5" fill="#ff7f0e" fill-opacity="0.5"/>
<circle cx="494.7" cy="390.3" r="2.5" fill="#ff7f0e" fill-opacity="0.5"/>
<circle cx="486.7" cy="414.9" r="2.5" fill="#ff7f0e" fill-opacity="0.5"/>
<circle cx="491.6" cy="418.2" r="2.5" fill="#ff7f0e" fill-opacity="0.5"/>
<circle cx="496.3" cy="437.9" r="2.5" fill="#ff7f0e" fill-opacity="0.5"/>
<circle cx="493.1" cy="452.1" r="2.5" fill="#ff7f0e" fill-opacity="0.5"/>
<circle cx="496.3" cy="463.6" r="2.5" fill="#ff7f0e" fill-opacity="0.5"/>
<circle cx="496.3" cy="467.1" r="2.5" fill="#ff7f0e" fill-opacity="0.5"/>
<circle cx="488.5" cy="468.5" r="2.5" fill="#ff7f0e" fill-opacity="0.5"/>
<circle cx="501.3" cy="469.7" r="2.5" fill="#ff7f0e" fill-opacity="0.5"/>
<circle cx="501.3" cy="475.9" r="2.5" fill="#ff7f0e" fill-opacity="0.5"/>
<circle cx="490.2" cy="485.8" r="2.5" fill="#ff7f0e" fill-opacity="0.5"/>
<circle cx="494.7" cy="485.8" r="2.5" fill="#ff7f0e" fill-opacity="0.5"/>
<circle cx="496.7" cy="488.2" r="2.5" fill="#ff7f0e" fill-opacity="0.5"/>
<circle cx="496.3" cy="501.0" r="2.5" fill="#ff7f0e" fill-opacity="0.5"/>
<circle cx="493.1" cy="504.0" r="2.5" fill="#ff7f0e" fill-opacity="0.5"/>
<circle cx="496.3" cy="505.7" r="2.5" fill="#ff7f0e" fill-opacity="0.5"/>
<circle cx="496.3" cy="515.6" r="2.5" fill="#ff7f0e" fill-opacity="0.5"/>
<circle cx="494.7" cy="518.6" r="2.5" fill="#ff7f0e" fill-opacity="0.5"/>
<circle cx="496.3" cy="522.1" r="2.5" fill="#ff7f0e" fill-opacity="0.5"/>
<circle cx="491.4" cy="525.0" r="2.5" fill="#ff7f0e" fill-opacity="0.5"/>
<circle cx="494.7" cy="524.4" r="2.5" fill="#ff7f0e" fill-opacity="0.5"/>
<circle cx="493.1" cy="541.4" r="2.5" fill="#ff7f0e" fill-opacity="0.5"/>
<circle cx="496.7" cy="543.1" r="2.5" fill="#ff7f0e" fill-opacity="0.5"/>
<circle cx="486.7" cy="546.6" r="2.5" fill="#ff7f0e" fill-opacity="0.5"/>
<circle cx="485.0" cy="551.3" r="2.5" fill="#ff7f0e" fill-opacity="0.5"/>
<circle cx="493.1" cy="557.2" r="2.5" fill="#ff7f0e" fill-opacity="0.5"/>
<circle cx="496.7" cy="556.6" r="2.5" fill="#ff7f0e" fill-opacity="0.5"/>
<circle cx="489.9" cy="562.4" r="2.5" fill="#ff7f0e" fill-opacity="0.5"/>
<circle cx="608.5" cy="301.5" r="2.5" fill="#ff7f0e" fill-opacity="0.5"/>
<circle cx="605.1" cy="330.4" r="2.5" fill="#ff7f0e" fill-opacity="0.5"/>
<circle cx="605.1" cy="336.0" r="2.5" fill="#ff7f0e" fill-opacity="0.5"/>
<circle cx="601.9" cy="337.3" r="2.5" fill="#ff7f0e" fill-opacity="0.5"/>
<circle cx="614.6" cy="407.0" r="2.5" fill="#ff7f0e" fill-opacity="0.5"/>
<circle cx="605.8" cy="434.4" r="2.5" fill="#ff7f0e" fill-opacity="0.5"/>
<circle cx="605.6" cy="460.3" r="2.5" fill="#ff7f0e" fill-opacity="0.5"/>
<circle cx="606.7" cy="463.8" r="2.5" fill="#ff7f0e" fill-opacity="0.5"/>
<circle cx="603.1" cy="467.9" r="2.5" fill="#ff7f0e" fill-opacity="0.5"/>
<circle cx="605.1" cy="477.7" r="2.5" fill="#ff7f0e" fill-opacity="0.5"/>
<circle cx="604.9" cy="478.0" r="2.5" fill="#ff7f0e" fill-opacity="0.5"/>
<circle cx="603.2" cy="501.5" r="2.5" fill="#ff7f0e" fill-opacity="0.5"/>
<circle cx="598.2" cy="505.7" r="2.5" fill="#ff7f0e" fill-opacity="0.5"/>
<circle cx="603.2" cy="510.3" r="2.5" fill="#ff7f0e" fill-opacity="0.5"/>
<circle cx="604.9" cy="513.7" r="2.5" fill="#ff7f0e" fill-opacity="0.5"/>
<circle cx="595.2" cy="533.4" r="2.5" fill="#ff7f0e" fill-opacity="0.5"/>
<circle cx="605.3" cy="544.8" r="2.5" fill="#ff7f0e" fill-opacity="0.5"/>
<circle cx="607.0" cy="546.5" r="2.5" fill="#ff7f0e" fill-opacity="0.5"/>
<circle cx="603.2" cy="568.7" r="2.5" fill="#ff7f0e" fill-opacity="0.5"/>
<circle cx="735.0" cy="148.7" r="2.5" fill="#ff7f0e" fill-opacity="0.5"/>
<circle cx="746.5" cy="241.6" r="2.5" fill="#ff7f0e" fill-opacity="0.5"/>
<circle cx="738.1" cy="306.3" r="2.5" fill="#ff7f0e" fill-opacity="0.5"/>
<circle cx="738.1" cy="312.9" r="2.5" fill="#ff7f0e" fill-opacity="0.5"/>
<circle cx="744.6" cy="320.8" r="2.5" fill="#ff7f0e" fill-opacity="0.5"/>
<circle cx="738.1" cy="345.4" r="2.5" fill="#ff7f0e" fill-opacity="0.5"/>
<circle cx="743.0" cy="366.3" r="2.5" fill="#ff7f0e" fill-opacity="0.5"/>
<circle cx="743.0" cy="376.1" r="2.5" fill="#ff7f0e" fill-opacity="0.5"/>
<circle cx="744.6" cy="388.7" r="2.5" fill="#ff7f0e" fill-opacity="0.5"/>
<circle cx="744.6" cy="403.6" r="2.5" fill="#ff7f0e" fill-opacity="0.5"/>
<circle cx="739.7" cy="422.7" r="2.5" fill="#ff7f0e" fill-opacity="0.5"/>
<circle cx="747.9" cy="426.0" r="2.5" fill="#ff7f0e" fill-opacity="0.5"/>
<circle cx="744.6" cy="434.3" r="2.5" fill="#ff7f0e" fill-opacity="0.5"/>
<circle cx="746.3" cy="439.2" r="2.5" fill="#ff7f0e" fill-opacity="0.5"/>
<circle cx="747.8" cy="465.2" r="2.5" fill="#ff7f0e" fill-opacity="0.5"/>
<circle cx="739.8" cy="473.4" r="2.5" fill="#ff7f0e" fill-opacity="0.5"/>
<circle cx="739.8" cy="490.9" r="2.5" fill="#ff7f0e" fill-opacity="0.5"/>
<circle cx="741.4" cy="493.6" r="2.5" fill="#ff7f0e" fill-opacity="0.5"/>
<circle cx="734.5" cy="495.7" r="2.5" fill="#ff7f0e" fill-opacity="0.5"/>
<circle cx="747.8" cy="495.7" r="2.5" fill="#ff7f0e" fill-opacity="0.5"/>
<circle cx="743.5" cy="502.6" r="2.5" fill="#ff7f0e" fill-opacity="0.5"/>
<circle cx="739.8" cy="505.2" r="2.5" fill="#ff7f0e" fill-opacity="0.5"/>
<circle cx="744.8" cy="505.2" r="2.5" fill="#ff7f0e" fill-opacity="0.5"/>
<circle cx="744.8" cy="512.1" r="2.5" fill="#ff7f0e" fill-opacity="0.5"/>
<circle cx="743.0" cy="518.7" r="2.5" fill="#ff7f0e" fill-opacity="0.5"/>
<circle cx="743.0" cy="536.5" r="2.5" fill="#ff7f0e" fill-opacity="0.5"/>
<circle cx="744.8" cy="545.0" r="2.5" fill="#ff7f0e" fill-opacity="0.5"/>
<circle cx="741.4" cy="562.0" r="2.5" fill="#ff7f0e" fill-opacity="0.5"/>
<circle cx="739.8" cy="567.8" r="2.5" fill="#ff7f0e" fill-opacity="0.5"/>
<circle cx="1051.4" cy="103.4" r="2.5" fill="#ff7f0e" fill-opacity="0.5"/>
<circle cx="1046.4" cy="153.7" r="2.5" fill="#ff7f0e" fill-opacity="0.5"/>
<circle cx="1044.8" cy="189.3" r="2.5" fill="#ff7f0e" fill-opacity="0.5"/>
<circle cx="1052.9" cy="218.5" r="2.5" fill="#ff7f0e" fill-opacity="0.5"/>
<circle cx="1042.9" cy="246.1" r="2.5" fill="#ff7f0e" fill-opacity="0.5"/>
<circle cx="1049.5" cy="249.5" r="2.5" fill="#ff7f0e" fill-opacity="0.5"/>
<circle cx="1047.9" cy="294.8" r="2.5" fill="#ff7f0e" fill-opacity="0.5"/>
<circle cx="1046.4" cy="351.4" r="2.5" fill="#ff7f0e" fill-opacity="0.5"/>
<circle cx="1046.4" cy="354.5" r="2.5" fill="#ff7f0e" fill-opacity="0.5"/>
<circle cx="1047.9" cy="380.6" r="2.5" fill="#ff7f0e" fill-opacity="0.5"/>
<circle cx="1056.0" cy="387.5" r="2.5" fill="#ff7f0e" fill-opacity="0.5"/>
<circle cx="1051.4" cy="403.3" r="2.5" fill="#ff7f0e" fill-opacity="0.5"/>
<circle cx="1049.5" cy="407.0" r="2.5" fill="#ff7f0e" fill-opacity="0.5"/>
<circle cx="1056.0" cy="409.9" r="2.5" fill="#ff7f0e" fill-opacity="0.5"/>
<circle cx="1051.4" cy="411.7" r="2.5" fill="#ff7f0e" fill-opacity="0.5"/>
<circle cx="1044.7" cy="430.9" r="2.5" fill="#ff7f0e" fill-opacity="0.5"/>
<circle cx="1052.6" cy="429.4" r="2.5" fill="#ff7f0e" fill-opacity="0.5"/>
<circle cx="1044.7" cy="435.7" r="2.5" fill="#ff7f0e" fill-opacity="0.5"/>
<circle cx="1049.5" cy="458.6" r="2.5" fill="#ff7f0e" fill-opacity="0.5"/>
<circle cx="1046.2" cy="465.2" r="2.5" fill="#ff7f0e" fill-opacity="0.5"/>
<circle cx="1049.5" cy="477.9" r="2.5" fill="#ff7f0e" fill-opacity="0.5"/>
<circle cx="1051.3" cy="481.5" r="2.5" fill="#ff7f0e" fill-opacity="0.5"/>
<circle cx="1046.2" cy="487.6" r="2.5" fill="#ff7f0e" fill-opacity="0.5"/>
<circle cx="1049.5" cy="489.4" r="2.5" fill="#ff7f0e" fill-opacity="0.5"/>
<circle cx="1048.1" cy="494.2" r="2.5" fill="#ff7f0e" fill-opacity="0.5"/>
<circle cx="1051.3" cy="494.2" r="2.5" fill="#ff7f0e" fill-opacity="0.5"/>
<circle cx="1044.7" cy="503.8" r="2.5" fill="#ff7f0e" fill-opacity="0.5"/>
<circle cx="1046.2" cy="506.9" r="2.5" fill="#ff7f0e" fill-opacity="0.5"/>
<circle cx="1046.2" cy="509.9" r="2.5" fill="#ff7f0e" fill-opacity="0.5"/>
<circle cx="1054.4" cy="516.9" r="2.5" fill="#ff7f0e" fill-opacity="0.5"/>
<circle cx="1042.9" cy="518.7" r="2.5" fill="#ff7f0e" fill-opacity="0.5"/>
<circle cx="1044.7" cy="520.1" r="2.5" fill="#ff7f0e" fill-opacity="0.5"/>
<circle cx="1051.3" cy="521.9" r="2.5" fill="#ff7f0e" fill-opacity="0.5"/>
<circle cx="1044.7" cy="535.2" r="2.5" fill="#ff7f0e" fill-opacity="0.5"/>
<circle cx="1044.7" cy="556.3" r="2.5" fill="#ff7f0e" fill-opacity="0.5"/>
<circle cx="1048.1" cy="566.0" r="2.5" fill="#ff7f0e" fill-opacity="0.5"/>
<circle cx="1271.5" cy="173.1" r="2.5" fill="#ff7f0e" fill-opacity="0.5"/>
<circle cx="1274.9" cy="181.1" r="2.5" fill="#ff7f0e" fill-opacity="0.5"/>
<circle cx="1268.4" cy="236.5" r="2.5" fill="#ff7f0e" fill-opacity="0.5"/>
<circle cx="1273.4" cy="244.8" r="2.5" fill="#ff7f0e" fill-opacity="0.5"/>
<circle cx="1269.9" cy="270.7" r="2.5" fill="#ff7f0e" fill-opacity="0.5"/>
<circle cx="1268.4" cy="290.0" r="2.5" fill="#ff7f0e" fill-opacity="0.5"/>
<circle cx="1271.5" cy="299.9" r="2.5" fill="#ff7f0e" fill-opacity="0.5"/>
<circle cx="1268.4" cy="309.3" r="2.5" fill="#ff7f0e" fill-opacity="0.5"/>
<circle cx="1273.4" cy="311.1" r="2.5" fill="#ff7f0e" fill-opacity="0.5"/>
<circle cx="1273.4" cy="324.2" r="2.5" fill="#ff7f0e" fill-opacity="0.5"/>
<circle cx="1273.4" cy="342.0" r="2.5" fill="#ff7f0e" fill-opacity="0.5"/>
<circle cx="1269.9" cy="356.6" r="2.5" fill="#ff7f0e" fill-opacity="0.5"/>
<circle cx="1265.2" cy="361.5" r="2.5" fill="#ff7f0e" fill-opacity="0.5"/>
<circle cx="1269.9" cy="379.0" r="2.5" fill="#ff7f0e" fill-opacity="0.5"/>
<circle cx="1273.4" cy="384.0" r="2.5" fill="#ff7f0e" fill-opacity="0.5"/>
<circle cx="1269.9" cy="393.5" r="2.5" fill="#ff7f0e" fill-opacity="0.5"/>
<circle cx="1274.8" cy="403.7" r="2.5" fill="#ff7f0e" fill-opacity="0.5"/>
<circle cx="1267.5" cy="405.4" r="2.5" fill="#ff7f0e" fill-opacity="0.5"/>
<circle cx="1273.4" cy="436.0" r="2.5" fill="#ff7f0e" fill-opacity="0.5"/>
<circle cx="1273.4" cy="450.7" r="2.5" fill="#ff7f0e" fill-opacity="0.5"/>
<circle cx="1271.1" cy="457.2" r="2.5" fill="#ff7f0e" fill-opacity="0.5"/>
<circle cx="1271.4" cy="469.7" r="2.5" fill="#ff7f0e" fill-opacity="0.5"/>
<circle cx="1272.6" cy="476.4" r="2.5" fill="#ff7f0e" fill-opacity="0.5"/>
<circle cx="1271.4" cy="489.7" r="2.5" fill="#ff7f0e" fill-opacity="0.5"/>
<circle cx="1272.1" cy="513.9" r="2.5" fill="#ff7f0e" fill-opacity="0.5"/>
<circle cx="1274.0" cy="515.8" r="2.5" fill="#ff7f0e" fill-opacity="0.5"/>
<circle cx="1271.4" cy="520.4" r="2.5" fill="#ff7f0e" fill-opacity="0.5"/>
<circle cx="1268.3" cy="525.3" r="2.5" fill="#ff7f0e" fill-opacity="0.5"/>
<circle cx="1274.7" cy="531.8" r="2.5" fill="#ff7f0e" fill-opacity="0.5"/>
<circle cx="1269.0" cy="536.6" r="2.5" fill="#ff7f0e" fill-opacity="0.5"/>
<circle cx="1269.0" cy="555.3" r="2.5" fill="#ff7f0e" fill-opacity="0.5"/>
<circle cx="1270.0" cy="557.2" r="2.5" fill="#ff7f0e" fill-opacity="0.5"/>
</g>
<g clip-path="url(#ca)">
<polyline points="215.0,577.4 270.3,508.6 354.5,543.5 409.0,521.0 493.0,479.5 603.0,492.5 742.0,449.2 1048.0,453.5 1271.0,478.0" fill="none" stroke="#1f77b4" stroke-width="5" stroke-linejoin="round" stroke-linecap="round"/>
<polyline points="215.0,577.4 270.3,505.0 354.5,531.0 409.0,517.0 493.0,496.0 603.0,472.0 742.0,455.0 1048.0,443.0 1271.0,419.0" fill="none" stroke="#ff7f0e" stroke-width="5" stroke-linejoin="round" stroke-linecap="round"/>
</g>
<line x1="144.60" y1="52.50" x2="144.60" y2="579.60" stroke="#262626" stroke-width="3.6" stroke-linecap="butt"/>
<line x1="158.70" y1="593.60" x2="1334.00" y2="593.60" stroke="#262626" stroke-width="3.6" stroke-linecap="butt"/>
<line x1="172.30" y1="95.50" x2="225.80" y2="95.50" stroke="#1f77b4" stroke-width="4.2" stroke-linecap="round"/>
<line x1="172.30" y1="134.40" x2="225.80" y2="134.40" stroke="#ff7f0e" stroke-width="4.2" stroke-linecap="round"/>
<defs><clipPath id="cb"><rect x="161.2" y="733.9" width="492.3" height="522.8"/></clipPath></defs>
<g clip-path="url(#cb)">
<circle cx="198.0" cy="855.8" r="4.3" fill="#1f77b4"/>
<circle cx="275.7" cy="854.3" r="4.3" fill="#1f77b4"/>
<circle cx="248.0" cy="877.2" r="4.3" fill="#1f77b4"/>
<circle cx="275.7" cy="938.7" r="4.3" fill="#1f77b4"/>
<circle cx="304.6" cy="1011.7" r="4.3" fill="#1f77b4"/>
<circle cx="342.1" cy="1030.9" r="4.3" fill="#1f77b4"/>
<circle cx="230.3" cy="1048.8" r="4.3" fill="#1f77b4"/>
<circle cx="194.6" cy="1053.7" r="4.3" fill="#1f77b4"/>
<circle cx="191.4" cy="1069.8" r="4.3" fill="#1f77b4"/>
<circle cx="267.4" cy="1076.4" r="4.3" fill="#1f77b4"/>
<circle cx="249.6" cy="1092.6" r="4.3" fill="#1f77b4"/>
<circle cx="251.3" cy="1104.0" r="4.3" fill="#1f77b4"/>
<circle cx="209.0" cy="1108.9" r="4.3" fill="#1f77b4"/>
<circle cx="220.5" cy="1112.2" r="4.3" fill="#1f77b4"/>
<circle cx="285.1" cy="1131.7" r="4.3" fill="#1f77b4"/>
<circle cx="212.3" cy="1134.7" r="4.3" fill="#1f77b4"/>
<circle cx="210.8" cy="1142.9" r="4.3" fill="#1f77b4"/>
<circle cx="245.0" cy="1144.4" r="4.3" fill="#1f77b4"/>
<circle cx="168.8" cy="1154.2" r="4.3" fill="#1f77b4"/>
<circle cx="217.2" cy="1154.2" r="4.3" fill="#1f77b4"/>
<circle cx="199.5" cy="1160.9" r="4.3" fill="#1f77b4"/>
<circle cx="194.6" cy="1163.9" r="4.3" fill="#1f77b4"/>
<circle cx="210.8" cy="1162.1" r="4.3" fill="#1f77b4"/>
<circle cx="235.1" cy="1170.4" r="4.3" fill="#1f77b4"/>
<circle cx="186.3" cy="1178.8" r="4.3" fill="#1f77b4"/>
<circle cx="209.1" cy="1178.8" r="4.3" fill="#1f77b4"/>
<circle cx="201.0" cy="1186.7" r="4.3" fill="#1f77b4"/>
<circle cx="212.4" cy="1186.6" r="4.3" fill="#1f77b4"/>
<circle cx="183.1" cy="1223.9" r="4.3" fill="#1f77b4"/>
<circle cx="189.8" cy="1220.5" r="4.3" fill="#1f77b4"/>
<circle cx="298.2" cy="1222.5" r="4.3" fill="#1f77b4"/>
<circle cx="225.3" cy="1233.7" r="4.3" fill="#1f77b4"/>
<circle cx="183.1" cy="1240.7" r="4.3" fill="#1f77b4"/>
<circle cx="204.0" cy="1245.2" r="4.3" fill="#1f77b4"/>
<circle cx="226.9" cy="1245.2" r="4.3" fill="#1f77b4"/>
<circle cx="163.5" cy="1250.2" r="4.3" fill="#1f77b4"/>
<circle cx="170.2" cy="1255.0" r="4.3" fill="#1f77b4"/>
<circle cx="178.3" cy="1248.8" r="4.3" fill="#1f77b4"/>
<circle cx="179.7" cy="1256.7" r="4.3" fill="#1f77b4"/>
<circle cx="187.8" cy="1256.7" r="4.3" fill="#1f77b4"/>
<circle cx="162.0" cy="1256.7" r="4.3" fill="#1f77b4"/>
<circle cx="172.0" cy="1256.7" r="4.3" fill="#1f77b4"/>
<circle cx="426.5" cy="1023.0" r="4.3" fill="#1f77b4"/>
<circle cx="473.3" cy="1032.7" r="4.3" fill="#1f77b4"/>
<circle cx="180.0" cy="852.8" r="4.3" fill="#ff7f0e"/>
<circle cx="192.9" cy="860.7" r="4.3" fill="#ff7f0e"/>
<circle cx="254.4" cy="924.0" r="4.3" fill="#ff7f0e"/>
<circle cx="233.4" cy="949.9" r="4.3" fill="#ff7f0e"/>
<circle cx="194.4" cy="969.4" r="4.3" fill="#ff7f0e"/>
<circle cx="204.3" cy="979.2" r="4.3" fill="#ff7f0e"/>
<circle cx="197.9" cy="990.4" r="4.3" fill="#ff7f0e"/>
<circle cx="236.7" cy="988.6" r="4.3" fill="#ff7f0e"/>
<circle cx="249.6" cy="1003.5" r="4.3" fill="#ff7f0e"/>
<circle cx="171.9" cy="1021.5" r="4.3" fill="#ff7f0e"/>
<circle cx="188.0" cy="1040.5" r="4.3" fill="#ff7f0e"/>
<circle cx="217.2" cy="1035.7" r="4.3" fill="#ff7f0e"/>
<circle cx="212.3" cy="1063.5" r="4.3" fill="#ff7f0e"/>
<circle cx="289.9" cy="1058.5" r="4.3" fill="#ff7f0e"/>
<circle cx="176.9" cy="1073.2" r="4.3" fill="#ff7f0e"/>
<circle cx="186.3" cy="1083.0" r="4.3" fill="#ff7f0e"/>
<circle cx="209.0" cy="1084.5" r="4.3" fill="#ff7f0e"/>
<circle cx="218.9" cy="1084.5" r="4.3" fill="#ff7f0e"/>
<circle cx="236.7" cy="1099.0" r="4.3" fill="#ff7f0e"/>
<circle cx="332.7" cy="1099.0" r="4.3" fill="#ff7f0e"/>
<circle cx="170.3" cy="1115.5" r="4.3" fill="#ff7f0e"/>
<circle cx="192.9" cy="1129.9" r="4.3" fill="#ff7f0e"/>
<circle cx="228.5" cy="1136.5" r="4.3" fill="#ff7f0e"/>
<circle cx="238.4" cy="1149.4" r="4.3" fill="#ff7f0e"/>
<circle cx="179.9" cy="1156.0" r="4.3" fill="#ff7f0e"/>
<circle cx="227.0" cy="1157.6" r="4.3" fill="#ff7f0e"/>
<circle cx="212.3" cy="1168.9" r="4.3" fill="#ff7f0e"/>
<circle cx="215.5" cy="1194.6" r="4.3" fill="#ff7f0e"/>
<circle cx="228.5" cy="1193.1" r="4.3" fill="#ff7f0e"/>
<circle cx="184.9" cy="1199.7" r="4.3" fill="#ff7f0e"/>
<circle cx="254.5" cy="1204.5" r="4.3" fill="#ff7f0e"/>
<circle cx="241.5" cy="1212.7" r="4.3" fill="#ff7f0e"/>
<circle cx="201.0" cy="1215.8" r="4.3" fill="#ff7f0e"/>
<circle cx="231.8" cy="1215.8" r="4.3" fill="#ff7f0e"/>
<circle cx="183.1" cy="1235.1" r="4.3" fill="#ff7f0e"/>
<circle cx="209.1" cy="1236.7" r="4.3" fill="#ff7f0e"/>
<circle cx="215.7" cy="1233.7" r="4.3" fill="#ff7f0e"/>
<circle cx="231.9" cy="1233.7" r="4.3" fill="#ff7f0e"/>
<circle cx="539.9" cy="915.9" r="4.3" fill="#ff7f0e"/>
<circle cx="408.7" cy="1115.3" r="4.3" fill="#ff7f0e"/>
</g>
<line x1="161.20" y1="1256.70" x2="653.50" y2="733.90" stroke="#000000" stroke-width="4.0" stroke-linecap="butt" stroke-opacity="0.2"/>
<line x1="144.40" y1="731.90" x2="144.40" y2="1258.20" stroke="#262626" stroke-width="3.6" stroke-linecap="butt"/>
<line x1="158.20" y1="1272.60" x2="656.40" y2="1272.60" stroke="#262626" stroke-width="3.6" stroke-linecap="butt"/>
<rect x="159.9" y="754.5" width="152.4" height="82.5" rx="4" ry="4" fill="#ffffff" fill-opacity="0.8" stroke="#cccccc" stroke-width="2"/>
<circle cx="199.5" cy="777.8" r="4.4" fill="#1f77b4"/>
<circle cx="199.5" cy="815.2" r="4.4" fill="#ff7f0e"/>
<rect x="863.60" y="801.80" width="96.90" height="215.70" fill="#657899" stroke="#4b4b4b" stroke-width="4.2"/>
<line x1="863.60" y1="878.20" x2="960.50" y2="878.20" stroke="#4b4b4b" stroke-width="4.2" stroke-linecap="butt"/>
<line x1="911.80" y1="1017.50" x2="911.80" y2="1124.90" stroke="#4b4b4b" stroke-width="4.2" stroke-linecap="butt"/>
<line x1="888.10" y1="1124.90" x2="935.50" y2="1124.90" stroke="#4b4b4b" stroke-width="4.2" stroke-linecap="round"/>
<rect x="962.40" y="946.20" width="97.40" height="113.60" fill="#b98c73" stroke="#4b4b4b" stroke-width="4.2"/>
<line x1="962.40" y1="1017.50" x2="1059.80" y2="1017.50" stroke="#4b4b4b" stroke-width="4.2" stroke-linecap="butt"/>
<line x1="1011.10" y1="946.20" x2="1011.10" y2="873.60" stroke="#4b4b4b" stroke-width="4.2" stroke-linecap="butt"/>
<line x1="987.40" y1="873.60" x2="1034.80" y2="873.60" stroke="#4b4b4b" stroke-width="4.2" stroke-linecap="round"/>
<line x1="1011.10" y1="1059.80" x2="1011.10" y2="1124.90" stroke="#4b4b4b" stroke-width="4.2" stroke-linecap="butt"/>
<line x1="987.40" y1="1124.90" x2="1034.80" y2="1124.90" stroke="#4b4b4b" stroke-width="4.2" stroke-linecap="round"/>
<rect x="1111.80" y="802.20" width="94.80" height="215.40" fill="#657899" stroke="#4b4b4b" stroke-width="4.2"/>
<line x1="1159.60" y1="1017.60" x2="1159.60" y2="1088.40" stroke="#4b4b4b" stroke-width="4.2" stroke-linecap="butt"/>
<line x1="1135.90" y1="1088.40" x2="1183.30" y2="1088.40" stroke="#4b4b4b" stroke-width="4.2" stroke-linecap="round"/>
<rect x="1210.60" y="1017.80" width="94.80" height="142.00" fill="#b98c73" stroke="#4b4b4b" stroke-width="4.2"/>
<line x1="1257.30" y1="1017.80" x2="1257.30" y2="994.90" stroke="#4b4b4b" stroke-width="4.2" stroke-linecap="butt"/>
<line x1="1233.60" y1="994.90" x2="1281.00" y2="994.90" stroke="#4b4b4b" stroke-width="4.2" stroke-linecap="round"/>
<line x1="1257.30" y1="1159.80" x2="1257.30" y2="1231.70" stroke="#4b4b4b" stroke-width="4.2" stroke-linecap="butt"/>
<line x1="1233.60" y1="1231.70" x2="1281.00" y2="1231.70" stroke="#4b4b4b" stroke-width="4.2" stroke-linecap="round"/>
<ellipse cx="1011.10" cy="802.20" rx="3.5" ry="6.3" fill="#4b4b4b"/>
<ellipse cx="1257.30" cy="802.20" rx="3.5" ry="6.3" fill="#4b4b4b"/>
<polyline points="899.9,770.5 899.9,757.5 1023.2,757.5 1023.2,770.5" fill="none" stroke="#333333" stroke-width="3" stroke-linejoin="miter"/>
<polyline points="1146.3,770.0 1146.3,756.7 1269.4,756.7 1269.4,770.0" fill="none" stroke="#333333" stroke-width="3" stroke-linejoin="miter"/>
<path d="M962.90,750.50L962.90,738.10M956.65,747.22L969.15,741.38M969.15,747.22L956.65,741.38" stroke="#000" stroke-width="2.2" stroke-linecap="butt" fill="none"/>
<path d="M1199.40,750.60L1199.40,738.20M1193.15,747.32L1205.65,741.48M1205.65,747.32L1193.15,741.48" stroke="#000" stroke-width="2.2" stroke-linecap="butt" fill="none"/>
<path d="M1217.40,750.60L1217.40,738.20M1211.15,747.32L1223.65,741.48M1223.65,747.32L1211.15,741.48" stroke="#000" stroke-width="2.2" stroke-linecap="butt" fill="none"/>
<line x1="822.90" y1="731.80" x2="822.90" y2="1257.30" stroke="#262626" stroke-width="3.6" stroke-linecap="butt"/>
<line x1="836.80" y1="1273.00" x2="1334.00" y2="1273.00" stroke="#262626" stroke-width="3.6" stroke-linecap="butt"/>
<rect x="846.1" y="1180.9" width="58.7" height="22.8" fill="#4c72b0"/>
<rect x="846.1" y="1218.0" width="58.7" height="22.8" fill="#dd8452"/>
<text x="57.40" y="66.50" font-size="34.00" fill="#2e2e2e" text-anchor="start" textLength="62.00" lengthAdjust="spacingAndGlyphs">0.50</text>
<text x="57.40" y="327.70" font-size="34.00" fill="#2e2e2e" text-anchor="start" textLength="62.40" lengthAdjust="spacingAndGlyphs">0.25</text>
<text x="57.40" y="589.00" font-size="34.00" fill="#2e2e2e" text-anchor="start" textLength="62.00" lengthAdjust="spacingAndGlyphs">0.00</text>
<text x="205.60" y="642.80" font-size="34.00" fill="#2e2e2e" text-anchor="start" textLength="20.00" lengthAdjust="spacingAndGlyphs">0</text>
<text x="381.60" y="642.80" font-size="34.00" fill="#2e2e2e" text-anchor="start" textLength="35.00" lengthAdjust="spacingAndGlyphs">70</text>
<text x="716.00" y="642.80" font-size="34.00" fill="#2e2e2e" text-anchor="start" textLength="53.20" lengthAdjust="spacingAndGlyphs">200</text>
<text x="1245.80" y="642.60" font-size="34.00" fill="#2e2e2e" text-anchor="start" textLength="54.00" lengthAdjust="spacingAndGlyphs">400</text>
<text x="56.80" y="745.50" font-size="34.00" fill="#2e2e2e" text-anchor="start" textLength="62.40" lengthAdjust="spacingAndGlyphs">0.50</text>
<text x="57.20" y="1007.30" font-size="34.00" fill="#2e2e2e" text-anchor="start" textLength="62.00" lengthAdjust="spacingAndGlyphs">0.25</text>
<text x="58.00" y="1268.30" font-size="34.00" fill="#2e2e2e" text-anchor="start" textLength="60.80" lengthAdjust="spacingAndGlyphs">0.00</text>
<text x="130.60" y="1321.60" font-size="34.00" fill="#2e2e2e" text-anchor="start" textLength="61.40" lengthAdjust="spacingAndGlyphs">0.00</text>
<text x="376.20" y="1321.50" font-size="34.00" fill="#2e2e2e" text-anchor="start" textLength="61.80" lengthAdjust="spacingAndGlyphs">0.25</text>
<text x="622.20" y="1321.50" font-size="34.00" fill="#2e2e2e" text-anchor="start" textLength="62.20" lengthAdjust="spacingAndGlyphs">0.50</text>
<text x="752.20" y="813.30" font-size="34.00" fill="#2e2e2e" text-anchor="start" textLength="43.80" lengthAdjust="spacingAndGlyphs">1.0</text>
<text x="752.00" y="1135.90" font-size="34.00" fill="#2e2e2e" text-anchor="start" textLength="43.00" lengthAdjust="spacingAndGlyphs">0.5</text>
<text x="0.00" y="41.80" font-size="59.50" fill="#000000" text-anchor="start" textLength="35.20" lengthAdjust="spacingAndGlyphs" stroke="#000000" stroke-width="0.7" stroke-linejoin="round">A</text>
<text x="-0.40" y="678.20" font-size="59.50" fill="#000000" text-anchor="start" textLength="34.60" lengthAdjust="spacingAndGlyphs" stroke="#000000" stroke-width="0.7" stroke-linejoin="round">B</text>
<text x="865.60" y="687.60" font-size="59.50" fill="#000000" text-anchor="start" textLength="35.80" lengthAdjust="spacingAndGlyphs" stroke="#000000" stroke-width="0.7" stroke-linejoin="round">C</text>
<text x="658.00" y="681.60" font-size="35.70" fill="#2e2e2e" text-anchor="start" textLength="176.40" lengthAdjust="spacingAndGlyphs">Generation</text>
<text x="185.00" y="1361.00" font-size="35.70" fill="#2e2e2e" text-anchor="start" textLength="444.60" lengthAdjust="spacingAndGlyphs">Variability at generation ~70</text>
<text transform="translate(41.80,550.00) rotate(-90)" x="0" y="0" font-size="35.70" fill="#2e2e2e" textLength="467.80" lengthAdjust="spacingAndGlyphs">Variability between replicates</text>
<text transform="translate(41.80,1229.20) rotate(-90)" x="0" y="0" font-size="35.70" fill="#2e2e2e" textLength="466.20" lengthAdjust="spacingAndGlyphs">Variability at generation ~400</text>
<text transform="translate(736.70,1146.40) rotate(-90)" x="0" y="0" font-size="35.70" fill="#2e2e2e" textLength="301.80" lengthAdjust="spacingAndGlyphs">Repeatability score</text>
<text x="247.20" y="103.90" font-size="25.90" fill="#2e2e2e" text-anchor="start" textLength="51.60" lengthAdjust="spacingAndGlyphs">Pairs</text>
<text x="247.40" y="142.80" font-size="25.90" fill="#2e2e2e" text-anchor="start" textLength="51.80" lengthAdjust="spacingAndGlyphs">Trios</text>
<text x="247.00" y="783.70" font-size="25.90" fill="#2e2e2e" text-anchor="start" textLength="51.80" lengthAdjust="spacingAndGlyphs">Pairs</text>
<text x="246.60" y="822.60" font-size="25.90" fill="#2e2e2e" text-anchor="start" textLength="53.00" lengthAdjust="spacingAndGlyphs">Trios</text>
<text x="922.80" y="1201.90" font-size="25.90" fill="#2e2e2e" text-anchor="start" textLength="201.40" lengthAdjust="spacingAndGlyphs">Experimental data</text>
<text x="923.80" y="1238.60" font-size="25.90" fill="#2e2e2e" text-anchor="start" textLength="145.20" lengthAdjust="spacingAndGlyphs">Shuffled data</text>
<text x="926.60" y="1321.30" font-size="33.70" fill="#2e2e2e" text-anchor="start" textLength="69.40" lengthAdjust="spacingAndGlyphs">Pairs</text>
<text x="1172.40" y="1321.30" font-size="33.70" fill="#2e2e2e" text-anchor="start" textLength="68.00" lengthAdjust="spacingAndGlyphs">Trios</text>
</svg>
</body></html>
